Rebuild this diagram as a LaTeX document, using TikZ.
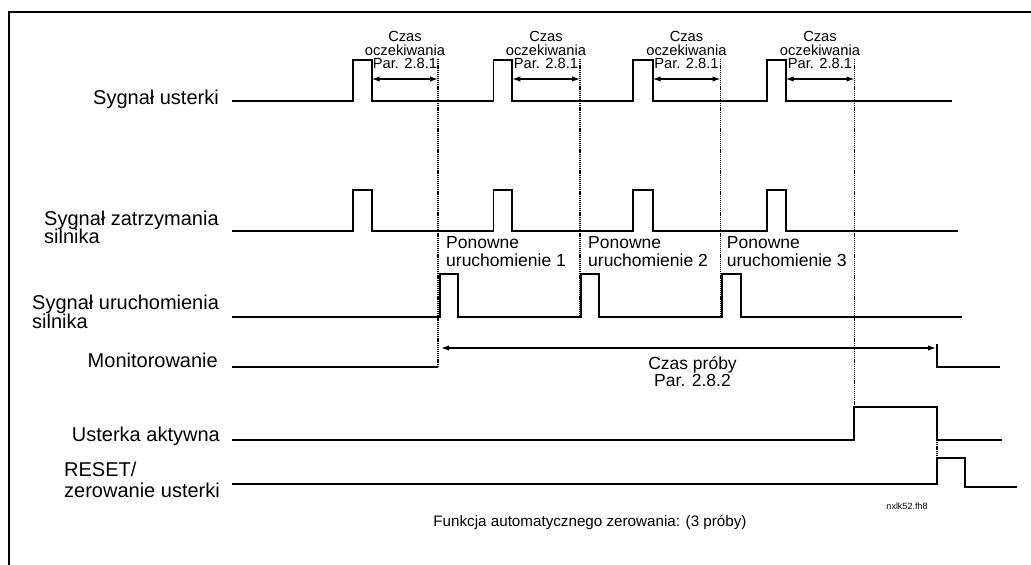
\documentclass[tikz,border=0pt]{standalone}
\usepackage{fontspec}
\setmainfont{Liberation Sans}
\usetikzlibrary{arrows.meta}
\begin{document}
\begin{tikzpicture}[x=1pt,y=-1pt,
  sig/.style={line width=1.7pt, line join=miter},
  frame/.style={line width=1.9pt},
  guide/.style={line width=1.1pt, dash pattern=on 1.2pt off 0.9pt},
  dim/.style={line width=1.3pt, {Latex[length=8pt,width=5.5pt]}-{Latex[length=8pt,width=5.5pt]}},
  lab/.style={font=\fontsize{20}{19}\selectfont, inner sep=0pt},
  wait/.style={font=\fontsize{14.7}{13.5}\selectfont, inner sep=0pt, anchor=base},
  rest/.style={font=\fontsize{17.5}{18}\selectfont, inner sep=0pt, anchor=base west},
  captxt/.style={font=\fontsize{17.5}{17}\selectfont, inner sep=0pt, anchor=base},
  titletxt/.style={font=\fontsize{15.2}{16}\selectfont, inner sep=0pt, anchor=base}]
\useasboundingbox (0,0) rectangle (1031,565);
% frame
\draw[frame] (9,565) -- (9,12) -- (1031,12);

% ---- left labels
\node[lab, anchor=base east] (l1) at (219,104) {Sygnał usterki};
\node[lab, anchor=base west] (l2a) at (44,225) {Sygnał zatrzymania};
\node[lab, anchor=base west] (l2b) at (44,243) {silnika};
\node[lab, anchor=base west] (l3a) at (32,309) {Sygnał uruchomienia};
\node[lab, anchor=base west] (l3b) at (32,328) {silnika};
\node[lab, anchor=base east] (l4) at (218,367) {Monitorowanie};
\node[lab, anchor=base east] (l5) at (220,441) {Usterka aktywna};
\node[lab, anchor=base west] (l6a) at (64,476) {RESET/};
\node[lab, anchor=base west] (l6b) at (64,497) {zerowanie usterki};

% ---- waveforms
% fault signal
\draw[sig] (232,101) -- (352.7,101) |- (371.7,60) -- (371.7,101)
  -- (493.5,101) |- (512.3,60) -- (512.3,101)
  -- (633.3,101) |- (652.7,60) -- (652.7,101)
  -- (766.7,101) |- (785.7,60) -- (785.7,101) -- (952,101);
% motor stop signal
\draw[sig] (232,231) -- (352.7,231) |- (371.7,190) -- (371.7,231)
  -- (493.5,231) |- (512.3,190) -- (512.3,231)
  -- (633.3,231) |- (652.7,190) -- (652.7,231)
  -- (766.7,231) |- (785.7,190) -- (785.7,231) -- (958,231);
% motor start signal
\draw[sig] (232,317) -- (440,317) |- (458,274) -- (458,317)
  -- (580.7,317) |- (599,274) -- (599,317)
  -- (722.3,317) |- (741,274) -- (741,317) -- (962,317);
\draw[line width=2.4pt] (652,317) -- (678,317);
% supervision
\draw[sig] (232,367) -- (438,367);
\draw[sig] (937,344) -- (937,367) -- (1000,367);
% fault active
\draw[sig] (232,440) -- (854,440) |- (937,407) -- (937,440) -- (1002,440);
% reset
\draw[sig] (232,484) -- (937,484) |- (965,458) -- (965,487) -- (1017,487);

% ---- guide coordinates
\coordinate (g1t) at (438,59);   \coordinate (g1b) at (438,367);
\coordinate (g2t) at (580,59);   \coordinate (g2b) at (580,317);
\coordinate (g3t) at (720.5,59); \coordinate (g3b) at (720.5,317);
\coordinate (g4t) at (854.5,59); \coordinate (g4b) at (854.5,407);
\coordinate (g5t) at (937,440);  \coordinate (g5b) at (937,458);
\draw[guide] (g1t) -- (g1b);
\draw[guide] (g2t) -- (g2b);
\draw[guide] (g3t) -- (g3b);
\draw[guide] (g4t) -- (g4b);
\draw[guide] (g5t) -- (g5b);

% ---- wait-time arrows
\coordinate (w1) at (371.7,79); \coordinate (w1e) at (g1t |- w1);
\coordinate (w2) at (512.3,79); \coordinate (w2e) at (g2t |- w2);
\coordinate (w3) at (652.7,79); \coordinate (w3e) at (g3t |- w3);
\coordinate (w4) at (785.7,79); \coordinate (w4e) at (g4t |- w4);
\draw[dim] (w1) -- (w1e);
\draw[dim] (w2) -- (w2e);
\draw[dim] (w3) -- (w3e);
\draw[dim] (w4) -- (w4e);

\foreach \i/\x in {1/405, 2/546, 3/686.5, 4/820}{
  \node[wait] (czas\i) at (\x,41) {Czas};
  \node[wait] (ocz\i) at (\x,55) {oczekiwania};
  \node[wait] (par\i) at (\x,68) {Par. 2.8.1};
}

% ---- restart labels
\foreach \i/\x in {1/446, 2/588, 3/726.7}{
  \node[rest] (pon\i) at (\x,248.3) {Ponowne};
  \node[rest] (uru\i) at (\x,266.7) {uruchomienie \i};
}

% ---- trial time
\coordinate (t1) at (441,348);
\coordinate (t2) at (936,348);
\draw[dim] (t1) -- (t2);
\node[captxt] (cp1) at (692.5,369) {Czas próby};
\node[captxt] (cp2) at (692.5,386.7) {Par. 2.8.2};

% ---- captions
\node[font=\fontsize{9}{9}\selectfont, inner sep=0pt, anchor=base] (ref) at (907,509) {nxlk52.fh8};
\node[titletxt] (title) at (590,526) {Funkcja automatycznego zerowania: (3 próby)};
\end{tikzpicture}
\end{document}
